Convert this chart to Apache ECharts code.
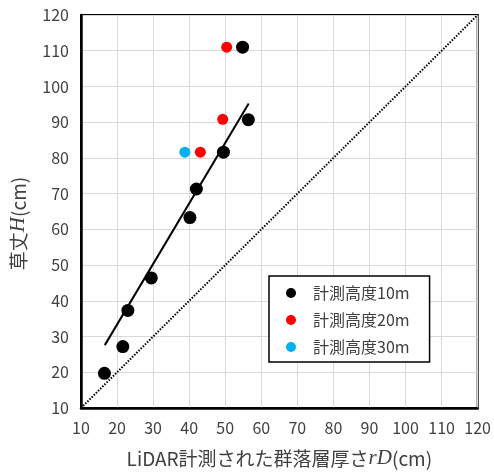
<!DOCTYPE html>
<html>
<head>
<meta charset="utf-8">
<script src="https://cdn.jsdelivr.net/npm/echarts@6/dist/echarts.min.js"></script>
<style>
  html, body { margin: 0; padding: 0; background: #fff; }
  #chart { width: 494px; height: 475px; }
</style>
</head>
<body>
<div id="chart"></div>
<script>
// measured points [rD, H]
const alt10 = [
  [16.5, 19.7], [21.6, 27.2], [23.0, 37.3], [29.5, 46.4], [40.2, 63.3],
  [42.0, 71.3], [49.5, 81.6], [56.4, 90.7], [54.8, 111.0]
]
const alt20 = [[43.1, 81.6], [49.3, 90.8], [50.4, 111.0]]
const alt30 = [[38.8, 81.6]]

// fitted line end points and the 1:1 line
const fitLine = [[16.6, 27.6], [56.5, 95.2]]
const oneToOne = [[10, 10], [120, 120]]

const axisMin = 10
const axisMax = 120
const axisStep = 10

const seriesNames = ['計測高度10m', '計測高度20m', '計測高度30m']

const font = '"Noto Sans CJK JP", "Noto Sans", sans-serif'
const textColor = '#404040'

const chart = echarts.init(document.getElementById('chart'), null, { renderer: 'canvas' })

const option = {
  animation: false,
  backgroundColor: '#fff',
  textStyle: { fontFamily: font },
  grid: {
    left: 79, top: 15, right: 15, bottom: 67,
    show: true, borderColor: '#000', borderWidth: 2
  },
  legend: {
    data: seriesNames,
    orient: 'vertical',
    left: 269,
    top: 276,
    padding: [8, 20, 6, 17],
    itemGap: 9,
    itemWidth: 10,
    itemHeight: 10,
    borderColor: '#000',
    borderWidth: 1.5,
    backgroundColor: '#fff',
    textStyle: {
      fontFamily: font, fontSize: 16, color: textColor,
      lineHeight: 18, padding: [0, 0, 0, 12]
    }
  },
  xAxis: {
    type: 'value',
    min: axisMin, max: axisMax, interval: axisStep,
    name: 'LiDAR計測された群落層厚さ{i|rD}(cm)',
    nameLocation: 'middle',
    nameGap: 40,
    nameTextStyle: {
      fontFamily: font, fontSize: 19, color: textColor,
      rich: { i: { fontFamily: '"Liberation Serif", serif', fontStyle: 'italic', fontSize: 21, color: textColor } }
    },
    axisLine: { show: true, lineStyle: { color: '#000', width: 2.5 } },
    axisTick: { show: false },
    axisLabel: { margin: 12, fontSize: 16, color: textColor, fontFamily: font },
    splitLine: { show: true, lineStyle: { color: '#d9d9d9', width: 1 } }
  },
  yAxis: {
    type: 'value',
    min: axisMin, max: axisMax, interval: axisStep,
    name: '草丈{i|H}(cm)',
    nameLocation: 'middle',
    nameGap: 52,
    nameTextStyle: {
      fontFamily: font, fontSize: 19, color: textColor,
      padding: [0, 24, 0, 0],
      rich: { i: { fontFamily: '"Liberation Serif", serif', fontStyle: 'italic', fontSize: 21, color: textColor } }
    },
    axisLine: { show: true, lineStyle: { color: '#000', width: 2.5 } },
    axisTick: { show: false },
    axisLabel: { margin: 12, fontSize: 16, color: textColor, fontFamily: font },
    splitLine: { show: true, lineStyle: { color: '#d9d9d9', width: 1 } }
  },
  series: [
    {
      name: '1:1',
      type: 'line',
      data: oneToOne,
      symbol: 'none',
      silent: true,
      lineStyle: { color: '#000', width: 2, type: [1.5, 1.5] },
      z: 1
    },
    {
      name: 'fit',
      type: 'line',
      data: fitLine,
      symbol: 'none',
      silent: true,
      lineStyle: { color: '#000', width: 2 },
      z: 1
    },
    {
      name: seriesNames[0],
      type: 'scatter',
      data: alt10,
      symbolSize: 13,
      itemStyle: { color: '#000', opacity: 1 },
      z: 3
    },
    {
      name: seriesNames[1],
      type: 'scatter',
      data: alt20,
      symbolSize: 11,
      itemStyle: { color: '#ff0000', opacity: 1 },
      z: 3
    },
    {
      name: seriesNames[2],
      type: 'scatter',
      data: alt30,
      symbolSize: 11,
      itemStyle: { color: '#00b0f0', opacity: 1 },
      z: 3
    }
  ]
}

chart.setOption(option)
</script>
</body>
</html>
